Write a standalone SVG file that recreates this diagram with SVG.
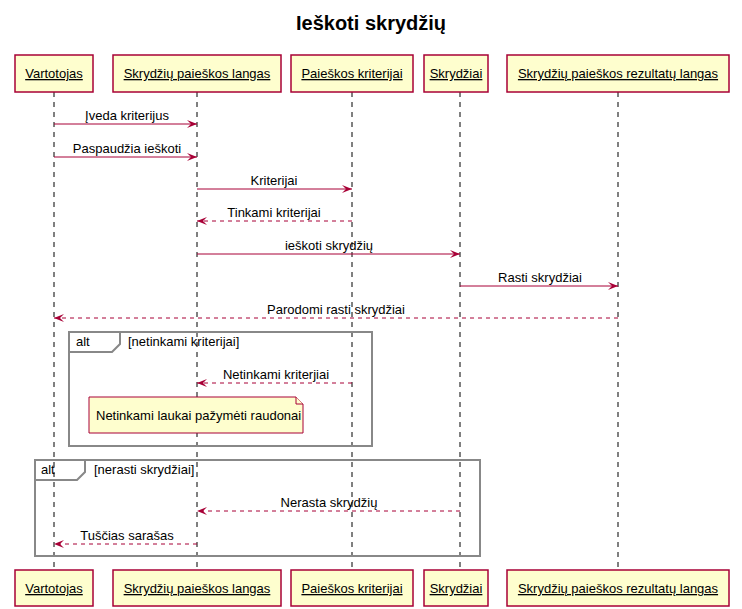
<svg xmlns="http://www.w3.org/2000/svg" width="742" height="609" viewBox="0 0 742 609">
<defs>
<style>
text{font-family:"Liberation Sans",Arial,sans-serif;font-size:13px;fill:#000}
.title{font-size:20px;font-weight:bold}
.pbox{fill:#FEFECE;stroke:#A80036;stroke-width:1.5}
.pname{text-decoration:underline}
.life{stroke:#000;stroke-width:1;stroke-dasharray:5,5}
.msg{stroke:#A80036;stroke-width:1;fill:none}
.ret{stroke:#A80036;stroke-width:1;fill:none;stroke-dasharray:4,4}
.frame{fill:none;stroke:#888;stroke-width:2}
.note{fill:#FBFB77;fill:#FEFECE;stroke:#A80036;stroke-width:1}
</style>
<marker id="ah" viewBox="0 0 10 8" refX="10" refY="4" markerWidth="10" markerHeight="8" orient="auto-start-reverse" markerUnits="userSpaceOnUse">
<path d="M0,0 L10,4 L0,8 L4,4 Z" fill="#A80036"/>
</marker>
</defs>
<text class="title" x="371" y="30" text-anchor="middle">Ieškoti skrydžių</text>
<g id="lifelines">
<line class="life" x1="54" y1="92" x2="54" y2="570"/>
<line class="life" x1="197" y1="92" x2="197" y2="570"/>
<line class="life" x1="352" y1="92" x2="352" y2="570"/>
<line class="life" x1="460" y1="92" x2="460" y2="570"/>
<line class="life" x1="618" y1="92" x2="618" y2="570"/>
</g>
<g id="p-vartotojas">
<rect class="pbox" x="15" y="55" width="78" height="37"/>
<text class="pname" x="54" y="78" text-anchor="middle">Vartotojas</text>
<rect class="pbox" x="15" y="570" width="78" height="36"/>
<text class="pname" x="54" y="593" text-anchor="middle">Vartotojas</text>
</g>
<g id="p-langas">
<rect class="pbox" x="113" y="55" width="168" height="37"/>
<text class="pname" x="197" y="78" text-anchor="middle">Skrydžių paieškos langas</text>
<rect class="pbox" x="113" y="570" width="168" height="36"/>
<text class="pname" x="197" y="593" text-anchor="middle">Skrydžių paieškos langas</text>
</g>
<g id="p-kriterijai">
<rect class="pbox" x="291" y="55" width="122" height="37"/>
<text class="pname" x="352" y="78" text-anchor="middle">Paieškos kriterijai</text>
<rect class="pbox" x="291" y="570" width="122" height="36"/>
<text class="pname" x="352" y="593" text-anchor="middle">Paieškos kriterijai</text>
</g>
<g id="p-skrydziai">
<rect class="pbox" x="424" y="55" width="64" height="37"/>
<text class="pname" x="456" y="78" text-anchor="middle">Skrydžiai</text>
<rect class="pbox" x="424" y="570" width="64" height="36"/>
<text class="pname" x="456" y="593" text-anchor="middle">Skrydžiai</text>
</g>
<g id="p-rezultatai">
<rect class="pbox" x="507" y="55" width="222" height="37"/>
<text class="pname" x="618" y="78" text-anchor="middle">Skrydžių paieškos rezultatų langas</text>
<rect class="pbox" x="507" y="570" width="222" height="36"/>
<text class="pname" x="618" y="593" text-anchor="middle">Skrydžių paieškos rezultatų langas</text>
</g>
<g id="frames">
<rect class="frame" x="69" y="332" width="303" height="114"/>
<path class="frame" d="M69,352 L112,352 L120,344 L120,332"/>
<text x="76" y="346">alt</text>
<text x="128" y="346">[netinkami kriterijai]</text>
<rect class="frame" x="35" y="460" width="445" height="96"/>
<path class="frame" d="M35,480 L77,480 L85,472 L85,460"/>
<text x="41" y="474">alt</text>
<text x="94" y="474">[nerasti skrydžiai]</text>
</g>
<g id="note">
<path class="note" d="M89,397 L296,397 L303,404 L303,433 L89,433 Z"/>
<path class="note" d="M296,397 L296,404 L303,404"/>
<text x="96" y="420">Netinkami laukai pažymėti raudonai</text>
</g>
<g id="connectors">
<line class="msg" x1="54" y1="124" x2="197" y2="124" marker-end="url(#ah)"/>
<text x="127" y="120" text-anchor="middle">Įveda kriterijus</text>
<line class="msg" x1="54" y1="157" x2="197" y2="157" marker-end="url(#ah)"/>
<text x="127" y="153" text-anchor="middle">Paspaudžia ieškoti</text>
<line class="msg" x1="197" y1="189" x2="352" y2="189" marker-end="url(#ah)"/>
<text x="274" y="185" text-anchor="middle">Kriterijai</text>
<line class="ret" x1="352" y1="221" x2="197" y2="221" marker-end="url(#ah)"/>
<text x="274" y="217" text-anchor="middle">Tinkami kriterijai</text>
<line class="msg" x1="197" y1="254" x2="460" y2="254" marker-end="url(#ah)"/>
<text x="329" y="250" text-anchor="middle">ieškoti skrydžių</text>
<line class="msg" x1="460" y1="286" x2="618" y2="286" marker-end="url(#ah)"/>
<text x="540" y="282" text-anchor="middle">Rasti skrydžiai</text>
<line class="ret" x1="618" y1="318" x2="54" y2="318" marker-end="url(#ah)"/>
<text x="336" y="314" text-anchor="middle">Parodomi rasti skrydžiai</text>
<line class="ret" x1="352" y1="383" x2="197" y2="383" marker-end="url(#ah)"/>
<text x="276" y="379" text-anchor="middle">Netinkami kriterjiai</text>
<line class="ret" x1="460" y1="511" x2="197" y2="511" marker-end="url(#ah)"/>
<text x="329" y="507" text-anchor="middle">Nerasta skrydžių</text>
<line class="ret" x1="197" y1="544" x2="54" y2="544" marker-end="url(#ah)"/>
<text x="127" y="540" text-anchor="middle">Tuščias sarašas</text>
</g>
</svg>
